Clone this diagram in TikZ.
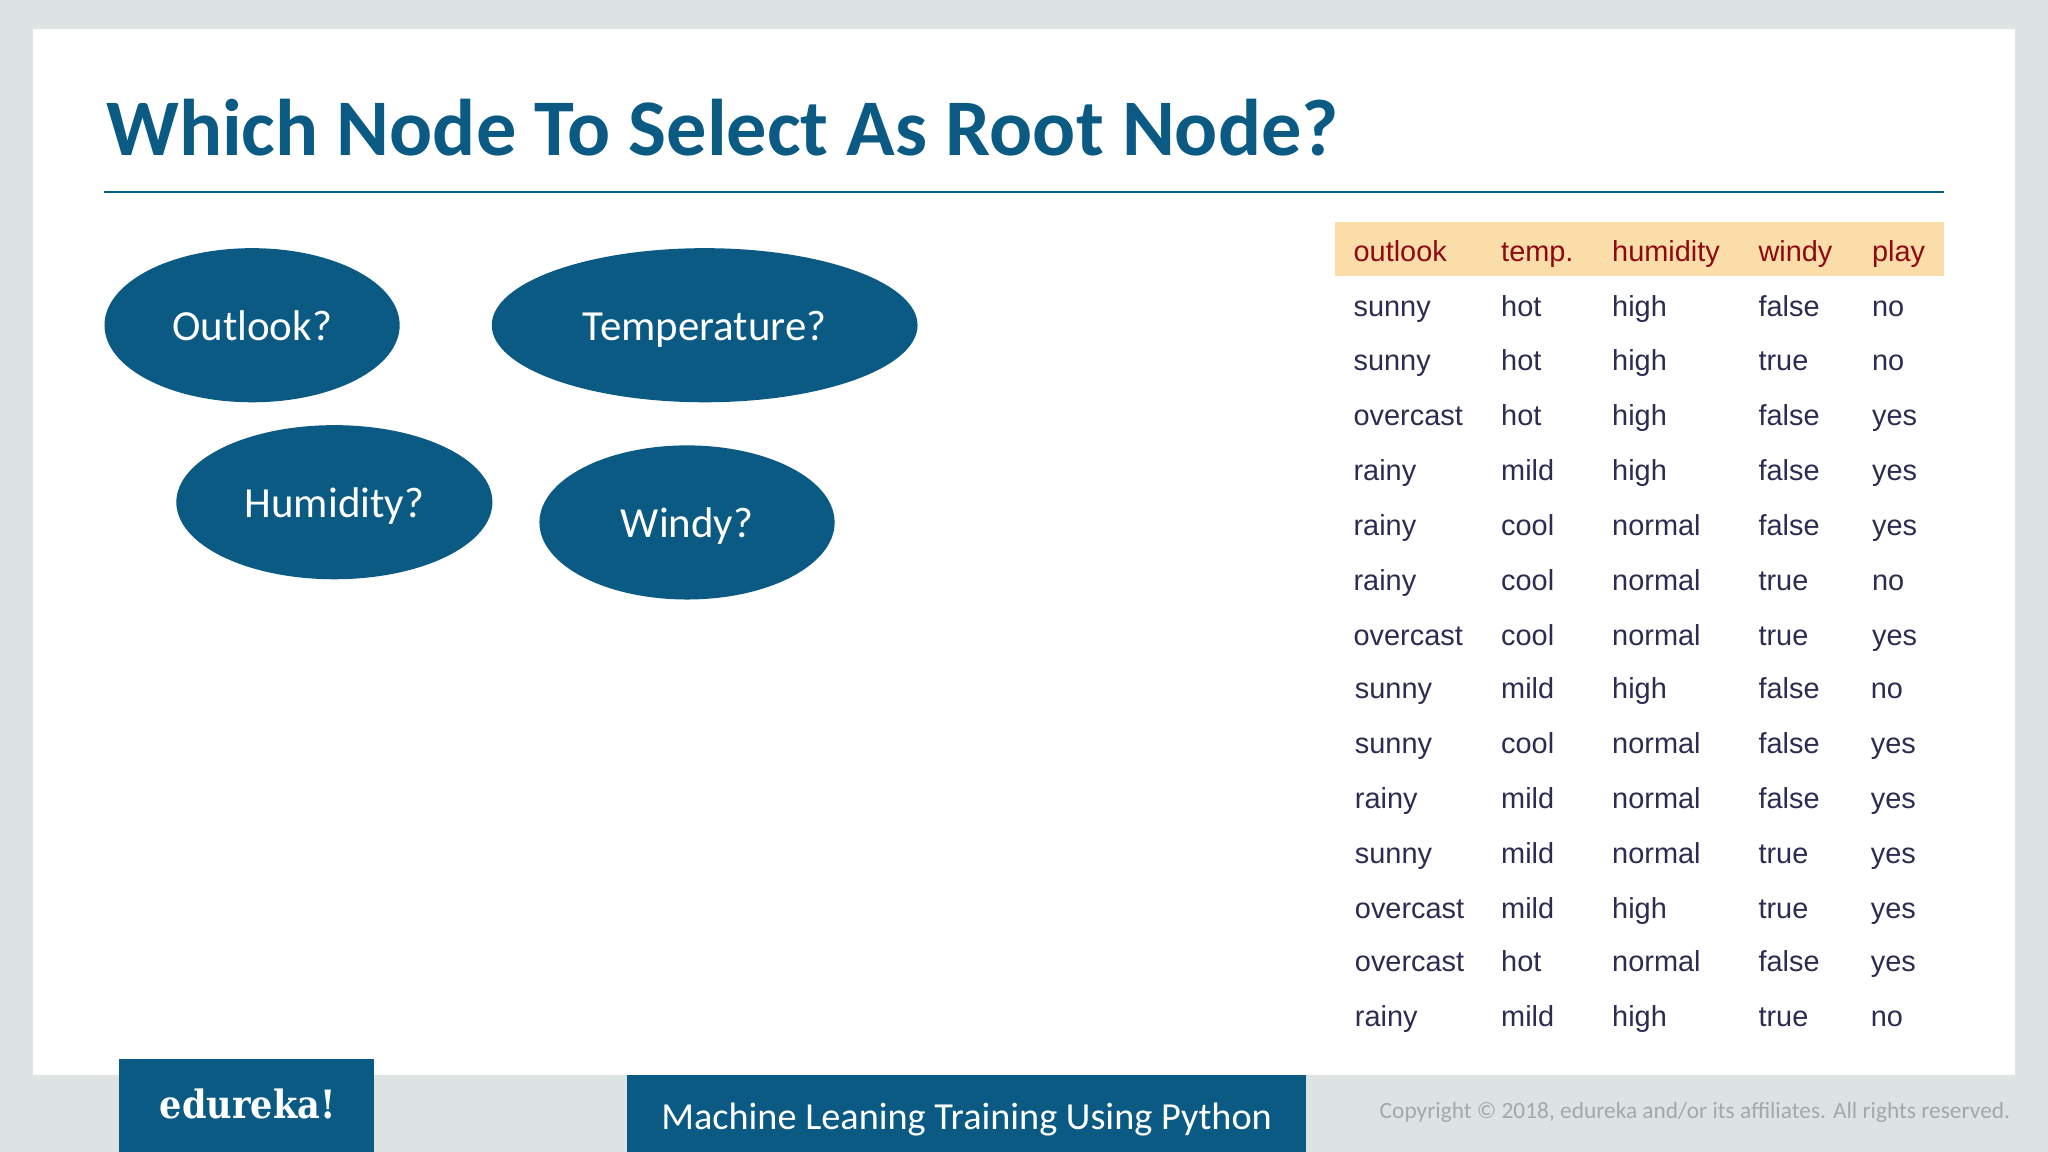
\documentclass[tikz,border=0pt]{standalone}
\usepackage{fontspec}
\usetikzlibrary{shapes.geometric}
\setmainfont{Carlito}
\newfontfamily\tablefont{Liberation Sans}
\newfontfamily\logofont[FakeStretch=0.9]{DejaVu Serif}
\definecolor{slideblue}{HTML}{0A5A84}
\definecolor{slidegrey}{HTML}{DDE3E2}
\definecolor{headband}{HTML}{FBDDAA}
\definecolor{headtext}{HTML}{8E0A12}
\definecolor{celltext}{HTML}{2C2C52}
\definecolor{copytext}{HTML}{A3A8A8}
\tikzset{
  attrnode/.style={ellipse,fill=slideblue,text=white,inner sep=0pt,minimum height=118\unitlength,
    font=\fontsize{18.7pt}{20pt}\selectfont,text height=13pt,text depth=0pt},
  headcell/.style={anchor=base west,inner sep=0pt,text=headtext,font=\tablefont\fontsize{12.6pt}{14pt}\selectfont},
  bodycell/.style={anchor=base west,inner sep=0pt,text=celltext,font=\tablefont\fontsize{12.6pt}{14pt}\selectfont},
}
\setlength{\unitlength}{0.02cm}
\begin{document}
\begin{tikzpicture}[x=0.02cm,y=-0.02cm]
  \useasboundingbox (0,0) rectangle (1568,882);
  % slide
  \fill [slidegrey] (0,0) rectangle (1568,882);
  \fill [white] (25,22) rectangle (1543,823);
  \node [anchor=base west,inner sep=0pt,text=slideblue,font=\bfseries\fontsize{35pt}{40pt}\selectfont] (title) at (81,119) {Which Node To Select As Root Node?};
  \coordinate (ruleleft) at (80,147);
  \coordinate (ruleright) at (1488,147);
  \draw [slideblue,line width=0.8pt] (ruleleft) -- (ruleright);
  % attributes
  \node [attrnode,minimum width=226\unitlength] (outlook) at (193,249) {Outlook?};
  \node [attrnode,minimum width=326\unitlength] (temperature) at (539.5,249) {Temperature?};
  \node [attrnode,minimum width=242\unitlength] (humidity) at (256,384.5) {Humidity?};
  \node [attrnode,minimum width=226\unitlength] (windy) at (526,400) {Windy?};
  % table
  \fill [headband] (1022,170) rectangle (1488,211);
  \node [headcell] (houtlook) at (1036,200) {outlook};
  \node [headcell] (htemp) at (1149,200) {temp.};
  \node [headcell] (hhumidity) at (1234,200) {humidity};
  \node [headcell] (hwindy) at (1346,200) {windy};
  \node [headcell] (hplay) at (1433,200) {play};
  \foreach \i/\rowy/\xa/\xe/\cola/\colb/\colc/\cold/\cole in {
    1/242/1036/1433/sunny/hot/high/false/no,
    2/284/1036/1433/sunny/hot/high/true/no,
    3/326/1036/1433/overcast/hot/high/false/yes,
    4/368/1036/1433/rainy/mild/high/false/yes,
    5/410/1036/1433/rainy/cool/normal/false/yes,
    6/452/1036/1433/rainy/cool/normal/true/no,
    7/494/1036/1433/overcast/cool/normal/true/yes,
    8/535/1037/1432/sunny/mild/high/false/no,
    9/577/1037/1432/sunny/cool/normal/false/yes,
    10/619/1037/1432/rainy/mild/normal/false/yes,
    11/661/1037/1432/sunny/mild/normal/true/yes,
    12/703/1037/1432/overcast/mild/high/true/yes,
    13/744/1037/1432/overcast/hot/normal/false/yes,
    14/786/1037/1432/rainy/mild/high/true/no}{
    \node [bodycell] (a\i) at (\xa,\rowy) {\cola};
    \node [bodycell] (b\i) at (1149,\rowy) {\colb};
    \node [bodycell] (c\i) at (1234,\rowy) {\colc};
    \node [bodycell] (d\i) at (1346,\rowy) {\cold};
    \node [bodycell] (e\i) at (\xe,\rowy) {\cole};
  }
  % footer
  \fill [slideblue] (91,811) rectangle (286,882);
  \fill [slideblue] (480,823) rectangle (1000,882);
  \node [anchor=base west,inner sep=0pt,text=white,font=\logofont\bfseries\fontsize{17pt}{19pt}\selectfont] (logo) at (122,856) {edureka!};
  \node [anchor=base west,inner sep=0pt,text=white,font=\fontsize{16.68pt}{20pt}\selectfont] (course) at (506,865) {Machine Leaning Training Using Python};
  \node [anchor=base west,inner sep=0pt,text=copytext,font=\fontsize{10.18pt}{12pt}\selectfont] (copyright) at (1056,856) {Copyright © 2018, edureka and/or its affiliates. All rights reserved.};
\end{tikzpicture}
\end{document}
